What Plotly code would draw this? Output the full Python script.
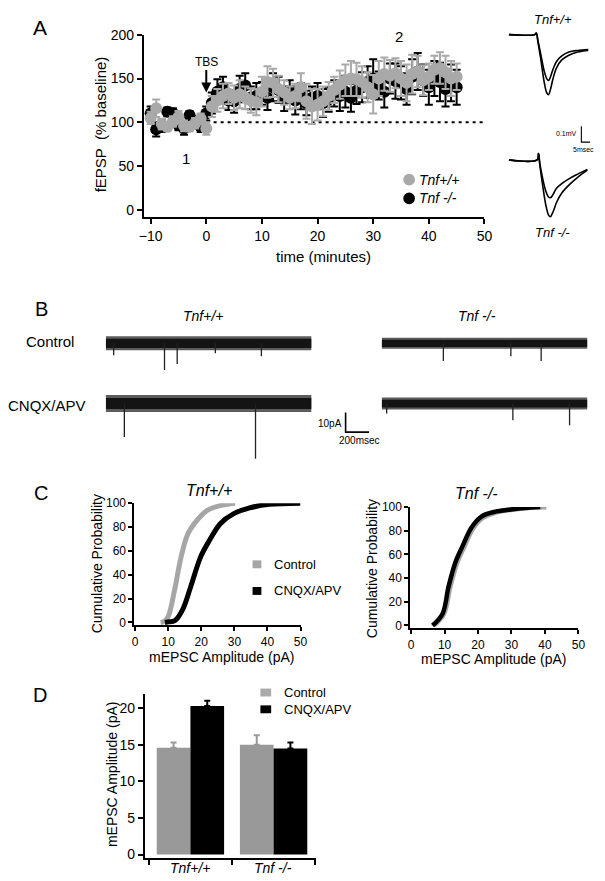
import plotly.graph_objects as go

W, H = 605, 881
FONT = "Arial, 'Liberation Sans', sans-serif"


def fx(px):
    return px / W


def fy(py):
    return 1 - py / H


# ---------------- Panel A data ----------------
time_min = list(range(-10, 46))
wt_fepsp = [105, 116, 98, 95, 101, 106, 96, 95, 99, 104, 93,
            118, 125, 130, 133, 128, 132, 128, 125, 123, 135,
            146, 145, 138, 134, 128, 130, 140, 124, 118, 120,
            124, 130, 137, 143, 148, 150, 149, 146, 140, 132,
            150, 155, 153, 156, 150, 145, 155, 158, 148, 152,
            160, 162, 157, 150, 152]
wt_sem = [7, 10, 6, 5, 6, 7, 6, 5, 6, 6, 7,
          12, 13, 14, 12, 14, 16, 13, 14, 15, 17,
          18, 16, 15, 14, 13, 14, 16, 20, 20, 18,
          17, 16, 15, 16, 18, 20, 19, 18, 17, 22,
          20, 19, 18, 17, 20, 21, 22, 18, 17, 15,
          16, 18, 19, 20, 15]
ko_fepsp = [110, 92, 96, 112, 110, 97, 93, 108, 101, 95, 110,
            122, 135, 140, 125, 124, 138, 142, 128, 130, 133,
            128, 140, 137, 127, 135, 125, 130, 122, 128, 130,
            122, 126, 133, 130, 135, 128, 136, 140, 146, 150,
            142, 135, 150, 147, 145, 138, 152, 158, 148, 140,
            150, 146, 138, 145, 140]
ko_sem = [8, 8, 7, 5, 6, 6, 7, 5, 6, 6, 8,
          12, 14, 12, 11, 13, 15, 14, 13, 15, 13,
          14, 16, 15, 14, 13, 16, 15, 14, 13, 15,
          16, 14, 15, 17, 18, 16, 15, 17, 18, 22,
          16, 18, 17, 20, 19, 18, 20, 21, 18, 20,
          20, 22, 20, 21, 20]
baseline_level = 100
tbs_time = 0

# example fEPSP traces (ms, mV)
wt_trace_t = [0, 14.5, 15.5, 16.5, 18, 20, 21.5, 22.5, 23.5, 25, 27, 30, 34, 39, 45]
wt_trace_before = [0, 0, 0.01, -0.04, -0.12, -0.23, -0.28, -0.29, -0.27, -0.22, -0.17, -0.135, -0.11, -0.1, -0.095]
wt_trace_after = [0, 0, 0.01, -0.05, -0.15, -0.30, -0.37, -0.38, -0.35, -0.28, -0.21, -0.16, -0.13, -0.11, -0.1]
ko_trace_t = [0, 16, 16.8, 17.5, 19, 21, 22.5, 23.5, 25, 27, 30, 34, 39, 44.5]
ko_trace_before = [0, 0, 0.04, -0.02, -0.11, -0.20, -0.235, -0.24, -0.22, -0.18, -0.15, -0.12, -0.09, -0.06]
ko_trace_after = [0, 0, 0.04, -0.03, -0.15, -0.29, -0.35, -0.36, -0.33, -0.27, -0.21, -0.16, -0.11, -0.065]
epsp_bar_mv = 0.1
epsp_bar_ms = 5

# ---------------- Panel B data ----------------
mepsc_trace_ms = 1750
wt_ctrl_events_t = [67, 500, 608, 933, 1325]
wt_ctrl_events_amp = [-6, -13.5, -10.5, -5, -6.5]
wt_cnqx_events_t = [158, 1275]
wt_cnqx_events_amp = [-17, -28]
ko_ctrl_events_t = [525, 1100, 1358]
ko_ctrl_events_amp = [-9, -6.5, -9]
ko_cnqx_events_t = [42, 1117, 1600]
ko_cnqx_events_amp = [-5, -8.5, -11]
mepsc_bar_pa = 10
mepsc_bar_ms = 200

# ---------------- Panel C data ----------------
wt_ctrl_amp = [7.7, 8.8, 10, 11.9, 13.9, 15.9, 18.8, 21.8, 25.7, 30.2]
wt_ctrl_cum = [0, 1, 5, 27, 55, 74, 86, 94, 98, 100]
wt_cnqx_amp = [9, 10, 12, 14.4, 16.8, 19.8, 22.3, 25.8, 29.7, 34.6, 40.5, 50]
wt_cnqx_cum = [0, 0.5, 1.5, 11, 30, 55, 68, 83, 91, 96, 99, 100]
ko_ctrl_amp = [6.8, 9.8, 11.6, 13.6, 15.6, 18.5, 21.4, 25.3, 30.2, 35, 40.4]
ko_ctrl_cum = [0, 10, 32, 52, 65, 82, 91, 95.5, 98, 99.5, 100]
ko_cnqx_amp = [6.4, 9.4, 11.2, 13.2, 15.2, 18.1, 21, 24.9, 29.8, 34, 38.6]
ko_cnqx_cum = [0, 10, 33, 53, 66, 83, 92, 96, 98, 99.3, 100]

# ---------------- Panel D data ----------------
genotypes = ["Tnf+/+", "Tnf -/-"]
ctrl_mean = [14.6, 15.0]
ctrl_sem = [0.7, 1.3]
cnqx_mean = [20.3, 14.5]
cnqx_sem = [0.7, 0.8]

GRAY_A = "#a9a9a9"
GRAY_C = "#a6a6a6"
GRAY_D = "#999999"

fig = go.Figure()

# ---- Panel A main ----
fig.add_trace(go.Scatter(x=time_min, y=ko_fepsp, mode="markers",
                         marker=dict(color="black", size=12),
                         error_y=dict(type="data", array=ko_sem, color="black", thickness=2, width=4),
                         xaxis="x", yaxis="y", cliponaxis=False))
fig.add_trace(go.Scatter(x=time_min, y=wt_fepsp, mode="markers",
                         marker=dict(color=GRAY_A, size=12),
                         error_y=dict(type="data", array=wt_sem, color=GRAY_A, thickness=2, width=4),
                         xaxis="x", yaxis="y", cliponaxis=False))

# ---- Panel A example traces ----
for yv in (wt_trace_before, wt_trace_after):
    fig.add_trace(go.Scatter(x=wt_trace_t, y=yv, mode="lines", line=dict(color="black", width=1.6, shape="spline"),
                             xaxis="x2", yaxis="y2"))
for yv in (ko_trace_before, ko_trace_after):
    fig.add_trace(go.Scatter(x=ko_trace_t, y=yv, mode="lines", line=dict(color="black", width=1.6, shape="spline"),
                             xaxis="x3", yaxis="y3"))
sbx, sby = 41.1, 0.1125
fig.add_trace(go.Scatter(x=[sbx, sbx, sbx + epsp_bar_ms], y=[sby + epsp_bar_mv, sby, sby], mode="lines",
                         line=dict(color="black", width=1.1), xaxis="x3", yaxis="y3"))


# ---- Panel B traces ----
def add_mepsc(ax, ay, band_px, ev_t, ev_amp):
    fig.add_trace(go.Scatter(x=[0, mepsc_trace_ms], y=[0, 0], mode="lines",
                             line=dict(color="#5c5c5c", width=band_px), xaxis=ax, yaxis=ay))
    fig.add_trace(go.Scatter(x=[0, mepsc_trace_ms], y=[0, 0], mode="lines",
                             line=dict(color="#141414", width=band_px * 0.65), xaxis=ax, yaxis=ay))
    xs, ys = [], []
    for t, a in zip(ev_t, ev_amp):
        xs += [t, t, None]
        ys += [0, a, None]
    fig.add_trace(go.Scatter(x=xs, y=ys, mode="lines", line=dict(color="#222", width=1.3),
                             xaxis=ax, yaxis=ay, cliponaxis=False))


add_mepsc("x4", "y4", 14, wt_ctrl_events_t, wt_ctrl_events_amp)
add_mepsc("x5", "y5", 11, ko_ctrl_events_t, ko_ctrl_events_amp)
add_mepsc("x6", "y6", 17, wt_cnqx_events_t, wt_cnqx_events_amp)
add_mepsc("x7", "y7", 12, ko_cnqx_events_t, ko_cnqx_events_amp)
bsx, bsy = 2042, -14.5
fig.add_trace(go.Scatter(x=[bsx, bsx, bsx + mepsc_bar_ms], y=[bsy + mepsc_bar_pa, bsy, bsy], mode="lines",
                         line=dict(color="black", width=1.6), xaxis="x6", yaxis="y6", cliponaxis=False))

# ---- Panel C ----
fig.add_trace(go.Scatter(x=wt_ctrl_amp, y=wt_ctrl_cum, mode="lines", line=dict(color=GRAY_C, width=5, shape="spline"),
                         xaxis="x8", yaxis="y8", cliponaxis=False))
fig.add_trace(go.Scatter(x=wt_cnqx_amp, y=wt_cnqx_cum, mode="lines", line=dict(color="black", width=5, shape="spline"),
                         xaxis="x8", yaxis="y8", cliponaxis=False))
fig.add_trace(go.Scatter(x=ko_ctrl_amp, y=ko_ctrl_cum, mode="lines", line=dict(color=GRAY_C, width=5, shape="spline"),
                         xaxis="x9", yaxis="y9", cliponaxis=False))
fig.add_trace(go.Scatter(x=ko_cnqx_amp, y=ko_cnqx_cum, mode="lines", line=dict(color="black", width=4.5, shape="spline"),
                         xaxis="x9", yaxis="y9", cliponaxis=False))

# ---- Panel D ----
fig.add_trace(go.Bar(x=genotypes, y=ctrl_mean, marker=dict(color=GRAY_D, line=dict(width=0)),
                     error_y=dict(type="data", symmetric=False, array=ctrl_sem, arrayminus=[0, 0],
                                  color=GRAY_D, thickness=2, width=3),
                     xaxis="x10", yaxis="y10"))
fig.add_trace(go.Bar(x=genotypes, y=cnqx_mean, marker=dict(color="black", line=dict(width=0)),
                     error_y=dict(type="data", symmetric=False, array=cnqx_sem, arrayminus=[0, 0],
                                  color="black", thickness=2, width=3),
                     xaxis="x10", yaxis="y10"))


def vis_axis(domain, rng, anchor, tickvals, size, lw=2, tl=5):
    return dict(domain=domain, range=rng, anchor=anchor, showgrid=False, zeroline=False,
                showline=True, linecolor="black", linewidth=lw, ticks="outside", ticklen=tl,
                tickwidth=lw, tickcolor="black", tickvals=tickvals,
                tickfont=dict(family=FONT, size=size, color="black"))


def hid_axis(domain, rng, anchor):
    return dict(domain=domain, range=rng, anchor=anchor, visible=False, showgrid=False, zeroline=False)


layout = dict(
    width=W, height=H, margin=dict(l=0, r=0, t=0, b=0), autosize=False,
    paper_bgcolor="white", plot_bgcolor="white", showlegend=False,
    font=dict(family=FONT, color="black"),
    barmode="group", bargap=0.19, bargroupgap=0,
    xaxis=vis_axis([fx(142), fx(490)], [-11.2, 50], "y", list(range(-10, 51, 10)), 14),
    yaxis=vis_axis([fy(212), fy(27)], [-8, 200], "x", list(range(0, 201, 50)), 14),
    xaxis2=hid_axis([fx(512), fx(600)], [-1.67, 47.2], "y2"),
    yaxis2=hid_axis([fy(95), fy(20)], [-0.425, 0.044], "x2"),
    xaxis3=hid_axis([fx(512), fx(600)], [-1.67, 47.2], "y3"),
    yaxis3=hid_axis([fy(218), fy(110)], [-0.4, 0.275], "x3"),
    xaxis4=hid_axis([fx(103), fx(380)], [0, 2308], "y4"),
    yaxis4=hid_axis([fy(382), fy(320)], [-21, 10], "x4"),
    xaxis5=hid_axis([fx(385), fx(600)], [0, 1792], "y5"),
    yaxis5=hid_axis([fy(382), fy(320)], [-21, 10], "x5"),
    xaxis6=hid_axis([fx(103), fx(380)], [0, 2308], "y6"),
    yaxis6=hid_axis([fy(462), fy(385)], [-30.5, 8], "x6"),
    xaxis7=hid_axis([fx(385), fx(600)], [0, 1792], "y7"),
    yaxis7=hid_axis([fy(462), fy(385)], [-30.5, 8], "x7"),
    xaxis8=vis_axis([fx(132), fx(302)], [-0.3, 50], "y8", list(range(0, 51, 10)), 12, lw=1.5, tl=4),
    yaxis8=vis_axis([fy(626), fy(502)], [-2.5, 100], "x8", list(range(0, 101, 20)), 12, lw=1.5, tl=4),
    xaxis9=vis_axis([fx(414), fx(586)], [-0.3, 50], "y9", list(range(0, 51, 10)), 12, lw=1.5, tl=4),
    yaxis9=vis_axis([fy(629), fy(506)], [-2.5, 100], "x9", list(range(0, 101, 20)), 12, lw=1.5, tl=4),
    xaxis10=dict(domain=[fx(143), fx(318)], range=[-0.547, 1.512], anchor="y10", type="category",
                 showgrid=False, zeroline=False, showline=True, linecolor="black", linewidth=2,
                 ticks="outside", ticklen=5, tickwidth=2, tickcolor="black", tickson="boundaries",
                 showticklabels=False),
    yaxis10=vis_axis([fy(862), fy(695)], [-0.5, 22], "x10", list(range(0, 21, 5)), 14),
)

ann = []


def txt(px, py, s, size, xa="center", ya="middle", angle=0):
    ann.append(dict(xref="paper", yref="paper", x=fx(px), y=fy(py), text=s, showarrow=False,
                    xanchor=xa, yanchor=ya, textangle=angle,
                    font=dict(family=FONT, size=size, color="black")))


# panel letters
txt(36, 20, "A", 21)
txt(37, 305, "B", 20)
txt(37, 492, "C", 20)
txt(36, 696, "D", 20)

# panel A texts
txt(97, 118, "fEPSP  (% baseline)", 15, angle=-90)
txt(325, 252, "time (minutes)", 15)
txt(185, 153, "1", 15)
txt(403, 29, "2", 15)
txt(421, 174, "<i>Tnf+/+</i>", 14, xa="left")
txt(421, 193, "<i>Tnf -/-</i>", 14, xa="left")
txt(560, 12, "<i>Tnf+/+</i>", 13)
txt(560, 228, "<i>Tnf -/-</i>", 13)
txt(587, 127, "0.1mV", 7, xa="right")
txt(591, 143, "5msec", 7)
ann.append(dict(xref="x", yref="y", x=tbs_time, y=134, text="TBS", showarrow=True, ax=0, ay=-31,
                arrowhead=2, arrowsize=1, arrowwidth=2, arrowcolor="black", standoff=0,
                font=dict(family=FONT, size=12, color="black")))

# panel B texts
txt(202, 312, "<i>Tnf+/+</i>", 14)
txt(482, 312, "<i>Tnf -/-</i>", 14)
txt(46, 338, "Control", 15)
txt(43, 403, "CNQX/APV", 15)
txt(346, 421, "10pA", 10, xa="right")
txt(362, 438, "200msec", 10)

# panel C texts
txt(208, 489, "<i>Tnf+/+</i>", 16)
txt(482, 492, "<i>Tnf -/-</i>", 16)
txt(222, 658, "mEPSC Amplitude (pA)", 14)
txt(500, 660, "mEPSC Amplitude (pA)", 14)
txt(94, 563, "Cumulative Probability", 14, angle=-90)
txt(375, 568, "Cumulative Probability", 14, angle=-90)
txt(273, 564, "Control", 13, xa="left")
txt(273, 591, "CNQX/APV", 13, xa="left")

# panel D texts
txt(110, 777, "mEPSC Amplitude (pA)", 14, angle=-90)
txt(283, 694, "Control", 13, xa="left")
txt(283, 711, "CNQX/APV", 13, xa="left")
txt(189, 872, "<i>%s</i>" % genotypes[0], 14)
txt(274, 872, "<i>%s</i>" % genotypes[1], 14)

layout["annotations"] = ann

shapes = [
    dict(type="line", xref="x", yref="y", x0=-10, x1=50, y0=baseline_level, y1=baseline_level,
         line=dict(color="black", width=2, dash="3px,4px"), layer="below"),
    dict(type="circle", xref="paper", yref="paper", x0=fx(407), x1=fx(419), y0=fy(180), y1=fy(168),
         fillcolor=GRAY_A, line=dict(width=0)),
    dict(type="circle", xref="paper", yref="paper", x0=fx(407), x1=fx(419), y0=fy(199), y1=fy(187),
         fillcolor="black", line=dict(width=0)),
    dict(type="rect", xref="paper", yref="paper", x0=fx(253), x1=fx(262), y0=fy(568), y1=fy(560),
         fillcolor=GRAY_C, line=dict(width=0)),
    dict(type="rect", xref="paper", yref="paper", x0=fx(253), x1=fx(262), y0=fy(595), y1=fy(587),
         fillcolor="black", line=dict(width=0)),
    dict(type="rect", xref="paper", yref="paper", x0=fx(261), x1=fx(272), y0=fy(698), y1=fy(690),
         fillcolor="#aaaaaa", line=dict(width=0)),
    dict(type="rect", xref="paper", yref="paper", x0=fx(261), x1=fx(272), y0=fy(715), y1=fy(707),
         fillcolor="black", line=dict(width=0)),
]
layout["shapes"] = shapes

fig.update_layout(**layout)
fig.write_html("out.html", config={"displayModeBar": False},
               post_script="document.body.style.margin='0px';")
